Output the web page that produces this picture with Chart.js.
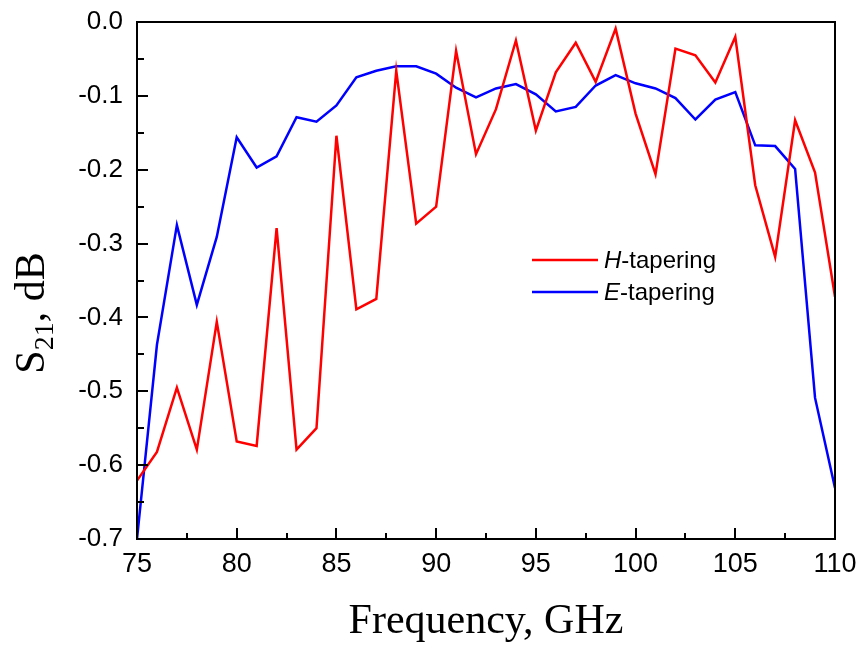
<!DOCTYPE html>
<html>
<head>
<meta charset="utf-8">
<title>S21 vs frequency</title>
<script src="https://cdn.jsdelivr.net/npm/chart.js@4"></script>
<style>
  body { margin: 0; background: #fff; }
  #wrap { width: 864px; height: 650px; }
</style>
</head>
<body>
<div id="wrap"><canvas id="s21Chart" width="864" height="650"></canvas></div>
<script>
// --- data ---
const freqGHz = [75, 76, 77, 78, 79, 80, 81, 82, 83, 84, 85, 86, 87, 88, 89, 90, 91, 92,
                 93, 94, 95, 96, 97, 98, 99, 100, 101, 102, 103, 104, 105, 106, 107, 108, 109, 110];

const hTapering = [-0.621, -0.582, -0.495, -0.579, -0.406, -0.568, -0.574, -0.279, -0.579, -0.550,
                   -0.154, -0.389, -0.375, -0.066, -0.273, -0.250, -0.039, -0.179, -0.118, -0.025,
                   -0.147, -0.068, -0.028, -0.081, -0.009, -0.124, -0.206, -0.036, -0.045, -0.082,
                   -0.020, -0.221, -0.318, -0.133, -0.204, -0.372];

const eTapering = [-0.700, -0.437, -0.275, -0.383, -0.291, -0.156, -0.197, -0.182, -0.129, -0.135,
                   -0.113, -0.075, -0.066, -0.060, -0.060, -0.070, -0.089, -0.102, -0.090, -0.084,
                   -0.098, -0.121, -0.115, -0.086, -0.072, -0.083, -0.090, -0.103, -0.132, -0.105,
                   -0.095, -0.167, -0.168, -0.199, -0.509, -0.631];

const xTicks = [75, 80, 85, 90, 95, 100, 105, 110];
const yTicks = [0.0, -0.1, -0.2, -0.3, -0.4, -0.5, -0.6, -0.7];

const seriesNames = ['H', 'E'];   // italic letter, then "-tapering"
const seriesColors = ['#ff0000', '#0000ff'];

function toPoints(ys) {
    return freqGHz.map((f, i) => ({ x: f, y: ys[i] }));
}

// frame, inward ticks, axis titles and legend drawn like the original plot
const decorPlugin = {
    id: 'decor',
    afterDraw(chart) {
        const ctx = chart.ctx;
        const a = chart.chartArea;
        const xs = chart.scales.x;
        const ys = chart.scales.y;
        ctx.save();
        ctx.strokeStyle = '#000';
        ctx.lineWidth = 2;

        // ticks (major + minor), pointing into the plot
        ctx.beginPath();
        for (let v = 75; v <= 110.001; v += 2.5) {
            const px = Math.round(xs.getPixelForValue(v));
            const len = (Math.abs(v % 5) < 0.01) ? 11 : 6;
            ctx.moveTo(px, a.bottom);
            ctx.lineTo(px, a.bottom - len);
        }
        for (let k = 0; k <= 14; k++) {
            const v = -k * 0.05;
            const py = Math.round(ys.getPixelForValue(v));
            const len = (k % 2 === 0) ? 11 : 7;
            ctx.moveTo(a.left, py);
            ctx.lineTo(a.left + len, py);
        }
        ctx.stroke();

        // frame
        ctx.strokeRect(a.left, a.top, a.right - a.left, a.bottom - a.top);

        // x title
        ctx.fillStyle = '#000';
        ctx.font = '42px "Liberation Serif", "Times New Roman", serif';
        ctx.textAlign = 'center';
        ctx.textBaseline = 'alphabetic';
        ctx.fillText('Frequency, GHz', (a.left + a.right) / 2, 633);

        // y title: S with subscript 21, rotated
        ctx.translate(44, 313);
        ctx.rotate(-Math.PI / 2);
        const big = '42px "Liberation Serif", "Times New Roman", serif';
        const small = '28px "Liberation Serif", "Times New Roman", serif';
        ctx.font = big;
        const wS = ctx.measureText('S').width;
        const wRest = ctx.measureText(', dB').width;
        ctx.font = small;
        const wSub = ctx.measureText('21').width;
        let x0 = -(wS + wSub + wRest) / 2;
        ctx.textAlign = 'left';
        ctx.font = big;
        ctx.fillText('S', x0, 0);
        ctx.font = small;
        ctx.fillText('21', x0 + wS, 9);
        ctx.font = big;
        ctx.fillText(', dB', x0 + wS + wSub, 0);
        ctx.restore();

        // legend
        ctx.save();
        const legY = [260, 292];
        seriesNames.forEach((nm, i) => {
            ctx.strokeStyle = seriesColors[i];
            ctx.lineWidth = 2.5;
            ctx.beginPath();
            ctx.moveTo(532, legY[i]);
            ctx.lineTo(598, legY[i]);
            ctx.stroke();
            ctx.fillStyle = '#000';
            ctx.textBaseline = 'middle';
            ctx.textAlign = 'left';
            ctx.font = 'italic 24px "Liberation Sans", Arial, sans-serif';
            ctx.fillText(nm, 604, legY[i] + 1);
            const w = ctx.measureText(nm).width;
            ctx.font = '24px "Liberation Sans", Arial, sans-serif';
            ctx.fillText('-tapering', 604 + w, legY[i] + 1);
        });
        ctx.restore();
    }
};

const ctxS21 = document.getElementById('s21Chart').getContext('2d');
const s21Chart = new Chart(ctxS21, {
    type: 'line',
    data: {
        datasets: [{
            label: 'H-tapering',
            data: toPoints(hTapering),
            borderColor: seriesColors[0],
            borderWidth: 2.5,
            pointRadius: 0,
            tension: 0,
            fill: false
        }, {
            label: 'E-tapering',
            data: toPoints(eTapering),
            borderColor: seriesColors[1],
            borderWidth: 2.5,
            pointRadius: 0,
            tension: 0,
            fill: false
        }]
    },
    options: {
        responsive: false,
        animation: false,
        layout: { padding: { top: 22, right: 29, left: 0, bottom: 0 } },
        plugins: {
            legend: { display: false },
            tooltip: { enabled: false }
        },
        scales: {
            x: {
                type: 'linear',
                min: 75,
                max: 110,
                afterFit(scale) {
                    scale.height = 111;
                    scale.paddingLeft = 0;
                    scale.paddingRight = 0;
                },
                afterBuildTicks(scale) { scale.ticks = xTicks.map(v => ({ value: v })); },
                grid: { display: false, drawTicks: false },
                border: { display: false },
                ticks: {
                    padding: 9,
                    color: '#000',
                    font: { family: '"Liberation Sans", Arial, sans-serif', size: 27 },
                    maxRotation: 0
                }
            },
            y: {
                min: -0.7,
                max: 0,
                afterFit(scale) {
                    scale.width = 137;
                    scale.paddingTop = 0;
                    scale.paddingBottom = 0;
                },
                afterBuildTicks(scale) { scale.ticks = yTicks.map(v => ({ value: v })); },
                grid: { display: false, drawTicks: false },
                border: { display: false },
                ticks: {
                    padding: 14,
                    color: '#000',
                    font: { family: '"Liberation Sans", Arial, sans-serif', size: 26 },
                    callback: v => (v === 0 ? '0.0' : v.toFixed(1))
                }
            }
        }
    },
    plugins: [decorPlugin]
});
</script>
</body>
</html>
